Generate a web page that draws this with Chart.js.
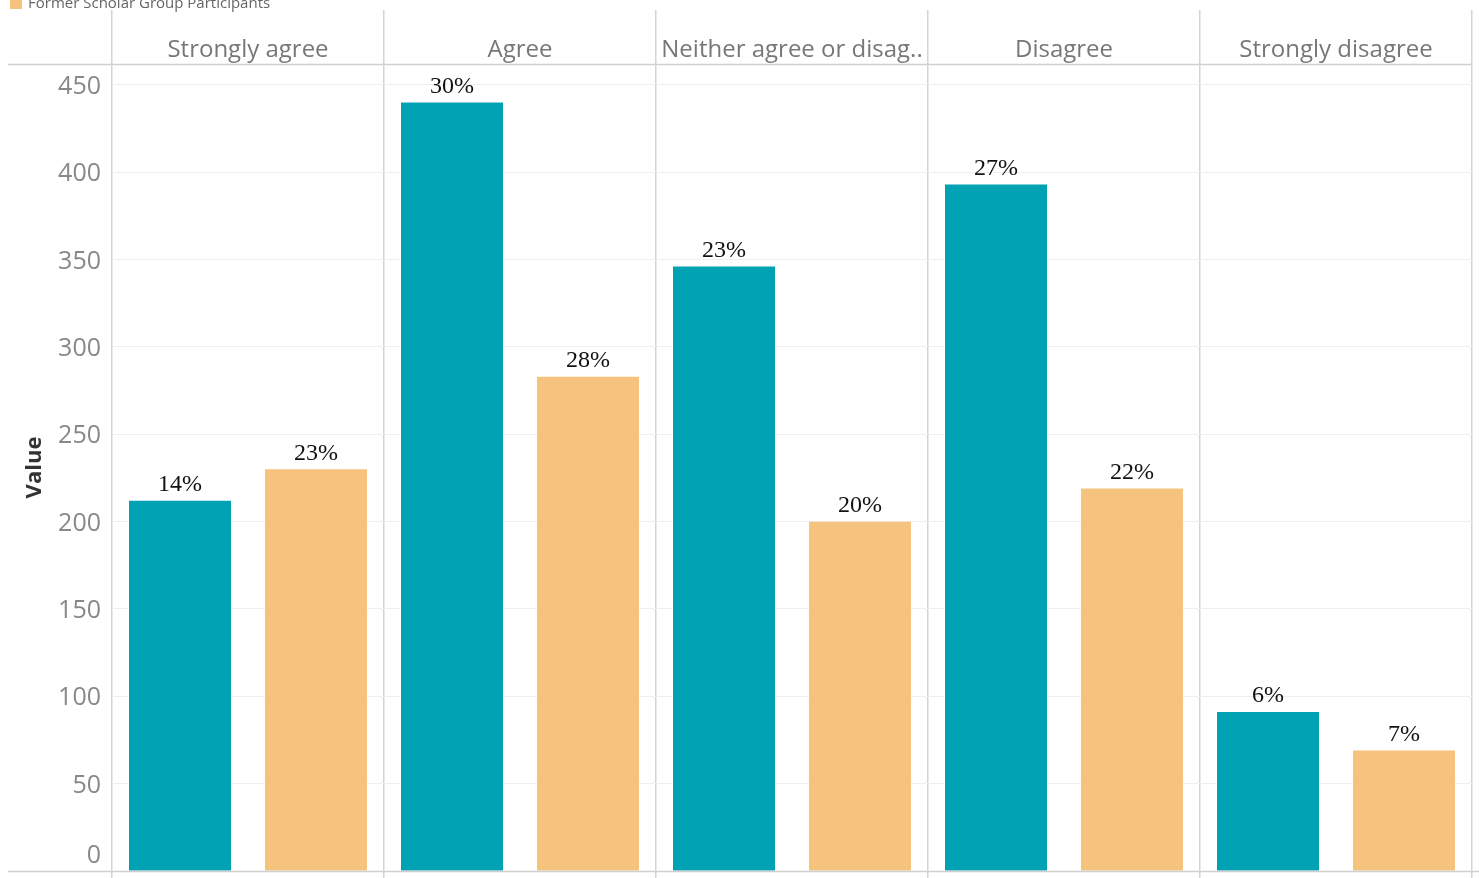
<!DOCTYPE html>
<html>
<head>
<meta charset="utf-8">
<script src="https://cdn.jsdelivr.net/npm/chart.js@4.4.1/dist/chart.umd.min.js"></script>
<style>
  html, body { margin: 0; padding: 0; background: #fff; overflow: hidden; }
  #wrap { position: relative; width: 1479px; height: 878px; }
  #legend { position: absolute; left: 10px; top: -5px; font: 15px "Open Sans", sans-serif; color: #666; line-height: 15px; white-space: nowrap; }
  #legend .sw { display: inline-block; width: 12px; height: 12px; background: #F6C37E; margin-right: 6px; vertical-align: -1px; }
</style>
</head>
<body>
<div id="wrap">
  <canvas id="c" width="1479" height="878"></canvas>
  <div id="legend"><span class="sw"></span>Former Scholar Group Participants</div>
</div>
<script>
const categories = ["Strongly agree", "Agree", "Neither agree or disag..", "Disagree", "Strongly disagree"];
const seriesNames = ["Current Scholar Group Participants", "Former Scholar Group Participants"];
const tealValues = [212, 440, 346, 393, 91];
const orangeValues = [230, 283, 200, 219, 69];
const tealPct = ["14%", "30%", "23%", "27%", "6%"];
const orangePct = ["23%", "28%", "20%", "22%", "7%"];
const yTicks = [0, 50, 100, 150, 200, 250, 300, 350, 400, 450];

const TEAL = "#00A2B4";
const ORANGE = "#F6C37E";

function noPad(s) { s.paddingTop = 0; s.paddingBottom = 0; s.paddingLeft = 0; s.paddingRight = 0; }

// keep the "0" tick label inside the plot, above the baseline (as in the reference)
const liftZeroLabel = {
  id: "liftZeroLabel",
  beforeDraw(chart) {
    const sc = chart.scales.y;
    const items = sc.getLabelItems(chart.chartArea);
    items.forEach((it, i) => {
      if (sc.ticks[i] && sc.ticks[i].value === 0 && !it._lifted) {
        it.options.translation[1] -= 17;
        it._lifted = true;
      }
    });
  }
};

const pctLabels = {
  id: "pctLabels",
  afterDatasetsDraw(chart) {
    const ctx = chart.ctx;
    ctx.save();
    ctx.font = '24px "Liberation Serif", "Times New Roman", serif';
    ctx.fillStyle = "#111";
    ctx.textAlign = "center";
    ctx.textBaseline = "bottom";
    const lists = [tealPct, orangePct];
    chart.data.datasets.forEach((ds, di) => {
      const meta = chart.getDatasetMeta(di);
      meta.data.forEach((el, i) => {
        ctx.fillText(lists[di][i], el.x, el.y - 4);
      });
    });
    ctx.restore();
  }
};

const frameLines = {
  id: "frameLines",
  afterDraw(chart) {
    const ctx = chart.ctx;
    const a = chart.chartArea;
    ctx.save();
    ctx.strokeStyle = "#d0d0d0";
    ctx.lineWidth = 1.5;
    ctx.beginPath();
    ctx.moveTo(8, Math.round(a.top) + 0.5);
    ctx.lineTo(a.right, Math.round(a.top) + 0.5);
    ctx.moveTo(8, Math.round(a.bottom) + 0.5);
    ctx.lineTo(chart.width, Math.round(a.bottom) + 0.5);
    ctx.stroke();
    ctx.restore();
  }
};

new Chart(document.getElementById("c"), {
  type: "bar",
  data: {
    labels: categories,
    datasets: [
      { label: seriesNames[0], data: tealValues, backgroundColor: TEAL, xAxisID: "x", barPercentage: 0.75, categoryPercentage: 1.0 },
      { label: seriesNames[1], data: orangeValues, backgroundColor: ORANGE, xAxisID: "x", barPercentage: 0.75, categoryPercentage: 1.0 }
    ]
  },
  options: {
    responsive: false,
    animation: false,
    layout: { autoPadding: false, padding: { left: 8, right: 7, top: 10, bottom: 0 } },
    plugins: { legend: { display: false }, tooltip: { enabled: false } },
    scales: {
      x: {
        type: "category",
        position: "top",
        offset: true,
        grid: { offset: true, color: "#d4d4d4", lineWidth: 1.5, drawOnChartArea: true, drawTicks: true, tickLength: 54 },
        border: { display: false },
        ticks: { color: "#777", font: { family: '"Open Sans", sans-serif', size: 24 }, padding: -55, maxRotation: 0, autoSkip: false },
        afterFit(s) { s.height = 54; noPad(s); }
      },
      x2: {
        type: "category",
        position: "bottom",
        labels: categories,
        offset: true,
        grid: { offset: true, color: "#d4d4d4", lineWidth: 1.5, drawOnChartArea: false, drawTicks: true, tickLength: 7 },
        border: { display: false },
        ticks: { display: false },
        afterFit(s) { s.height = 7; noPad(s); }
      },
      y: {
        min: 0,
        max: 462,
        afterBuildTicks(s) { s.ticks = yTicks.map(v => ({ value: v })); },
        grid: { color: "#efefef", lineWidth: 1, drawTicks: false },
        border: { display: false },
        ticks: { color: "#888", font: { family: '"Open Sans", sans-serif', size: 25 }, padding: 11, labelOffset: 2 },
        title: { display: true, text: "Value", color: "#333", font: { family: '"Open Sans", sans-serif', size: 22, weight: "bold" }, padding: { top: 14, bottom: 0 } },
        afterFit(s) { s.width = 104; noPad(s); }
      }
    }
  },
  plugins: [liftZeroLabel, pctLabels, frameLines]
});
</script>
</body>
</html>
